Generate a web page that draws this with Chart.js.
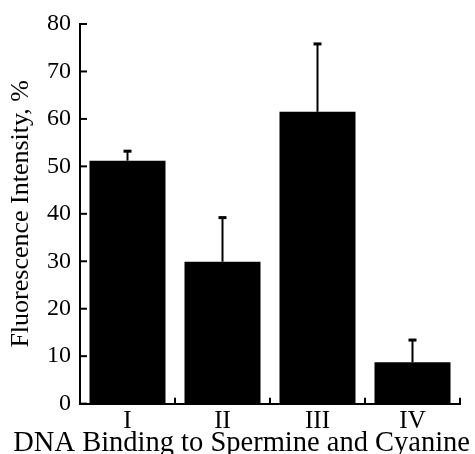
<!DOCTYPE html>
<html>
<head>
<meta charset="utf-8">
<script src="https://cdn.jsdelivr.net/npm/chart.js@4/dist/chart.umd.min.js"></script>
<style>
  html, body { margin: 0; padding: 0; background: #fff; }
  #chart { display: block; }
</style>
</head>
<body>
<canvas id="chart" width="475" height="454"></canvas>
<script>
// Data
const categories = ['I', 'II', 'III', 'IV'];
const intensity = [51.2, 29.9, 61.5, 8.7];
const errorUp = [2.0, 9.3, 14.3, 4.7];
const yTicks = [0, 10, 20, 30, 40, 50, 60, 70, 80];

const serif = '"Liberation Serif", "DejaVu Serif", serif';

// inward ticks on both axes + upward error bars
const extras = {
  id: 'extras',
  afterDatasetsDraw(chart) {
    const ctx = chart.ctx;
    const x = chart.scales.x, y = chart.scales.y;
    const meta = chart.getDatasetMeta(0);
    ctx.save();
    ctx.strokeStyle = '#000';
    ctx.lineWidth = 2;
    // error bars
    meta.data.forEach((bar, i) => {
      const top = y.getPixelForValue(intensity[i] + errorUp[i]);
      ctx.beginPath();
      ctx.moveTo(bar.x, bar.y);
      ctx.lineTo(bar.x, top);
      ctx.stroke();
      ctx.lineWidth = 3;
      ctx.beginPath();
      ctx.moveTo(bar.x - 4, top);
      ctx.lineTo(bar.x + 4, top);
      ctx.stroke();
      ctx.lineWidth = 2;
    });
    // y ticks pointing right
    yTicks.forEach(v => {
      const py = y.getPixelForValue(v);
      ctx.beginPath();
      ctx.moveTo(x.left, py);
      ctx.lineTo(x.left + 7, py);
      ctx.stroke();
    });
    // x ticks at category boundaries pointing up
    const step = x.getPixelForValue(1) - x.getPixelForValue(0);
    categories.forEach((c, i) => {
      const px = x.getPixelForValue(i) + step / 2;
      ctx.beginPath();
      ctx.moveTo(px, y.bottom);
      ctx.lineTo(px, y.bottom - 6);
      ctx.stroke();
    });
    ctx.restore();
  }
};

new Chart(document.getElementById('chart').getContext('2d'), {
  type: 'bar',
  data: {
    labels: categories,
    datasets: [{
      data: intensity,
      backgroundColor: '#000',
      borderWidth: 0,
      barPercentage: 0.8,
      categoryPercentage: 1.0
    }]
  },
  options: {
    responsive: false,
    animation: false,
    layout: { padding: { top: 24, right: 5, left: 0, bottom: 0 } },
    plugins: {
      legend: { display: false },
      tooltip: { enabled: false },
      // x-axis caption as a full-width title so it is not squeezed to the plot width
      title: {
        display: true,
        position: 'bottom',
        align: 'end',
        text: 'DNA Binding to Spermine and Cyanine',
        color: '#000',
        font: { family: serif, size: 28.5, weight: 'normal', lineHeight: 0.75 },
        padding: 0
      }
    },
    scales: {
      x: {
        grid: { display: false, drawTicks: false },
        border: { display: true, color: '#000', width: 2 },
        ticks: { color: '#000', font: { family: serif, size: 25 }, padding: 3 },
        afterFit(s) { s.height = 29; }
      },
      y: {
        min: 0,
        max: 80,
        afterBuildTicks(s) { s.ticks = yTicks.map(v => ({ value: v })); },
        grid: { display: false, drawTicks: false },
        border: { display: true, color: '#000', width: 2 },
        ticks: { color: '#000', font: { family: serif, size: 24 }, padding: 9 },
        title: {
          display: true,
          text: 'Fluorescence Intensity, %',
          color: '#000',
          font: { family: serif, size: 26 },
          padding: { top: 6, bottom: 0 }
        },
        afterFit(s) { s.width = 80; }
      },
      // empty spacer on the right so the plot ends short of the caption
      spacer: {
        type: 'linear',
        position: 'right',
        display: true,
        grid: { display: false, drawTicks: false },
        border: { display: false },
        ticks: { display: false },
        afterFit(s) { s.width = 10; }
      }
    }
  },
  plugins: [extras]
});
</script>
</body>
</html>
